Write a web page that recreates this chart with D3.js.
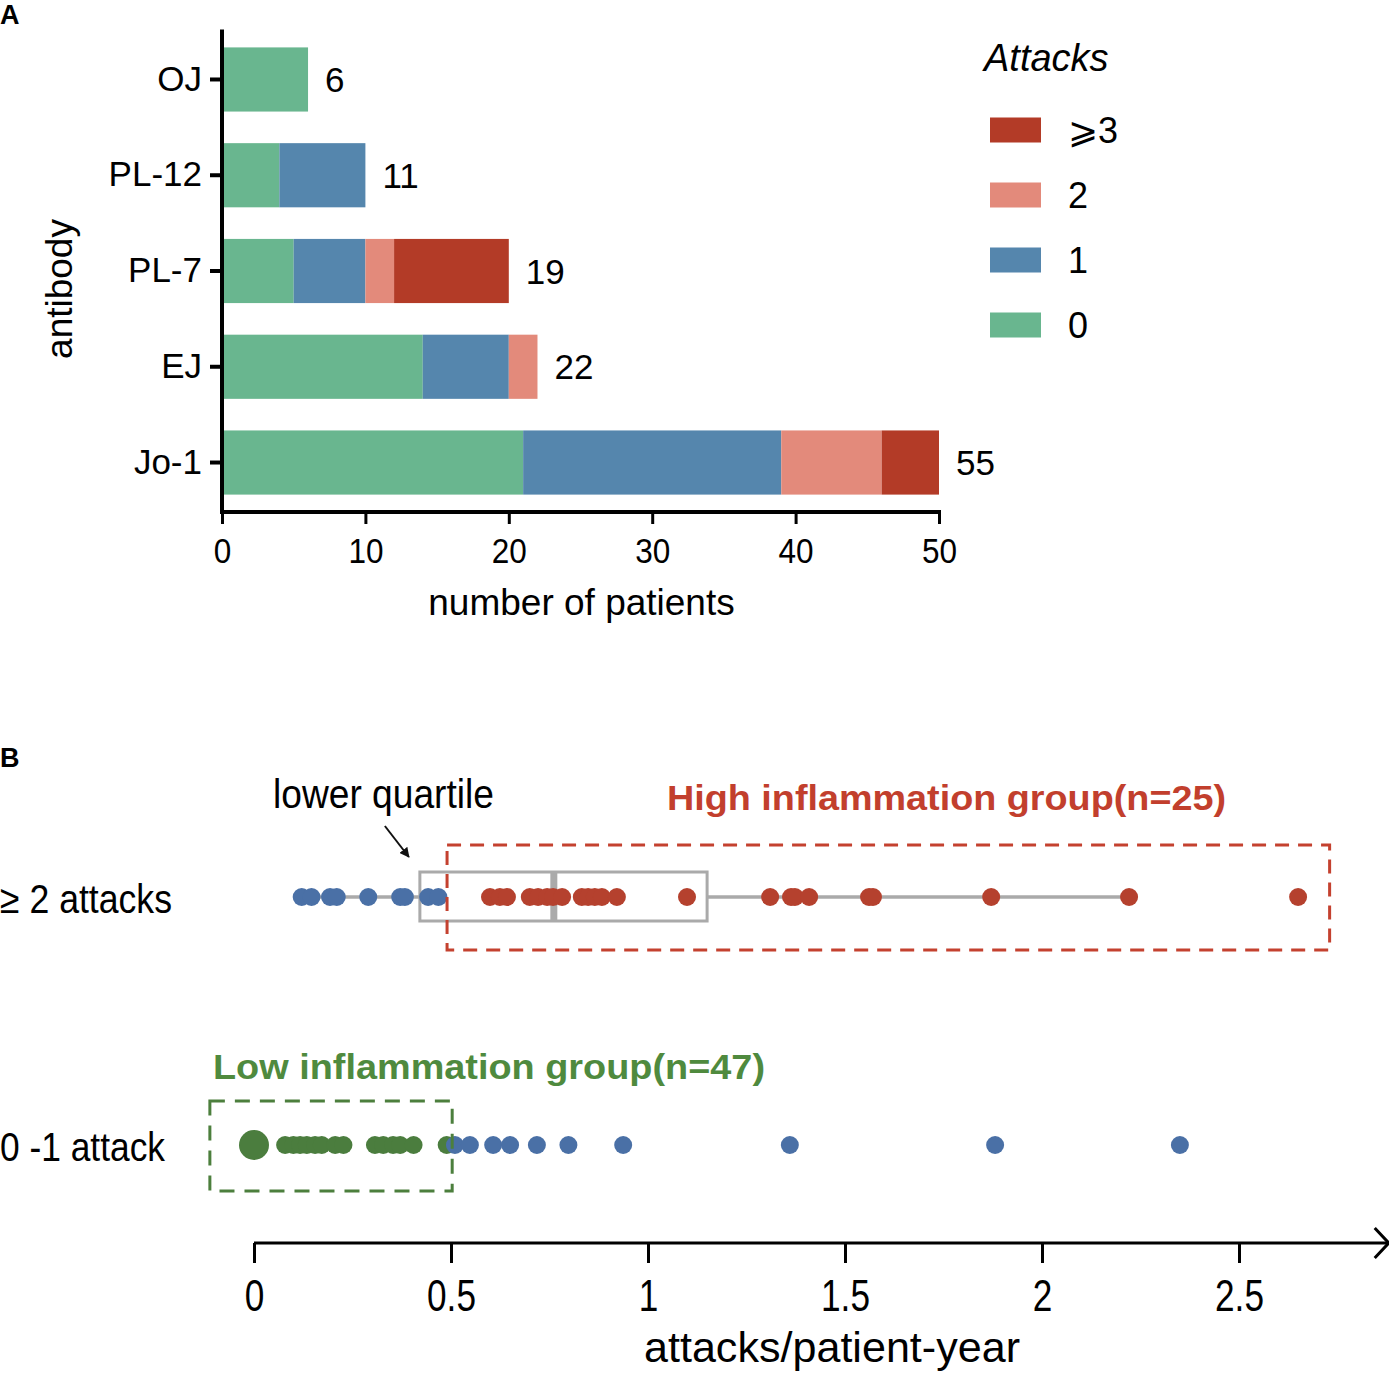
<!DOCTYPE html>
<html>
<head>
<meta charset="utf-8">
<script src="https://d3js.org/d3.v7.min.js"></script>
<style>
  body { margin: 0; background: #fff; }
  text { font-family: "Liberation Sans", Arial, sans-serif; }
</style>
</head>
<body>
<script>
// ---- Panel A data ----
const antibodies = ["OJ", "PL-12", "PL-7", "EJ", "Jo-1"];
const attackKeys = ["0", "1", "2", ">=3"];
const attacks0 = [6, 4, 5, 14, 21];
const attacks1 = [0, 6, 5, 6, 18];
const attacks2 = [0, 0, 2, 2, 7];
const attacks3 = [0, 0, 8, 0, 4];
const totals = [6, 11, 19, 22, 55];
const legendLabels = ["\u2A7E3", "2", "1", "0"];
const xTicksA = [0, 10, 20, 30, 40, 50];

// ---- Panel B data ----
const rowsB = ["\u2265 2 attacks", "0 -1 attack"];
const highBlue = [0.121, 0.146, 0.193, 0.210, 0.290, 0.371, 0.383, 0.442, 0.468];
const highRed = [0.599, 0.624, 0.642, 0.700, 0.721, 0.744, 0.759, 0.782, 0.832, 0.848, 0.865, 0.883, 0.921,
                 1.099, 1.310, 1.363, 1.373, 1.409, 1.561, 1.571, 1.871, 2.221, 2.650];
const boxStats = [0.121, 0.421, 0.761, 1.150, 2.221]; // whisker lo, q1, median, q3, whisker hi
const lowZero = [0];
const lowGreen = [0.079, 0.100, 0.117, 0.134, 0.155, 0.172, 0.206, 0.227, 0.307, 0.328, 0.353, 0.371, 0.405, 0.489];
const lowBlue = [0.510, 0.548, 0.607, 0.650, 0.718, 0.798, 0.937, 1.360, 1.881, 2.350];
const xTicksB = [0, 0.5, 1, 1.5, 2, 2.5];

const colors = { "0": "#69b68f", "1": "#5586ad", "2": "#e38a7b", ">=3": "#b33b27" };
const dotBlue = "#4a70a6", dotRed = "#b5412e", dotGreen = "#4b7d3e";
const textRed = "#c23f2d", textGreen = "#4f8a3e";

const W = 1389, H = 1373;
const svg = d3.select("body").append("svg")
  .attr("width", W).attr("height", H);

function squeeze(sel, len) {
  sel.attr("textLength", len).attr("lengthAdjust", "spacingAndGlyphs");
}
function narrow(sel, f) {
  sel.each(function () {
    const w = this.getComputedTextLength();
    d3.select(this).attr("textLength", w * f).attr("lengthAdjust", "spacingAndGlyphs");
  });
}

// ================= Panel A =================
svg.append("text").attr("x", 0).attr("y", 24)
  .attr("font-size", 27).attr("font-weight", "bold").text("A");

const xA = d3.scaleLinear().domain([0, 50]).range([222, 939]);
const yA = d3.scaleBand().domain(antibodies).range([31.6, 510.4])
  .paddingInner(0.33).paddingOuter(0.165);

const tableA = antibodies.map((a, i) => ({
  name: a, "0": attacks0[i], "1": attacks1[i], "2": attacks2[i], ">=3": attacks3[i], total: totals[i]
}));
const stacked = d3.stack().keys(attackKeys)(tableA);

svg.append("g").selectAll("g")
  .data(stacked).join("g")
  .attr("fill", d => colors[d.key])
  .selectAll("rect")
  .data(d => d).join("rect")
  .attr("x", d => xA(d[0]))
  .attr("width", d => xA(d[1]) - xA(d[0]))
  .attr("y", d => yA(d.data.name))
  .attr("height", yA.bandwidth());

// totals to the right of each bar
svg.append("g").selectAll("text")
  .data(tableA).join("text")
  .attr("x", d => xA(d["0"] + d["1"] + d["2"] + d[">=3"]) + 17)
  .attr("y", d => yA(d.name) + yA.bandwidth() / 2)
  .attr("dy", "0.36em")
  .attr("font-size", 35)
  .text(d => d.total);

// axes
const axisBottomA = svg.append("g")
  .attr("transform", `translate(0,512)`)
  .call(d3.axisBottom(xA).tickValues(xTicksA).tickSize(12).tickSizeOuter(0).tickPadding(14));
axisBottomA.select(".domain").attr("stroke-width", 4)
  .attr("d", `M${xA(0) - 2},0H${xA(50) + 2}`);
axisBottomA.selectAll(".tick line").attr("stroke-width", 3);
axisBottomA.selectAll(".tick text").attr("font-size", 35).attr("font-family", "Liberation Sans, Arial, sans-serif");
narrow(axisBottomA.selectAll(".tick text"), 0.9);

const axisLeftA = svg.append("g")
  .attr("transform", `translate(${xA(0)},0)`)
  .call(d3.axisLeft(yA).tickSize(12).tickSizeOuter(0).tickPadding(8));
axisLeftA.select(".domain").attr("stroke-width", 4)
  .attr("d", `M0,${yA.range()[0] - 2}V${514}`);
axisLeftA.selectAll(".tick line").attr("stroke-width", 4);
axisLeftA.selectAll(".tick text").attr("font-size", 35).attr("font-family", "Liberation Sans, Arial, sans-serif");

svg.append("text")
  .attr("x", (xA(0) + xA(50)) / 2 + 1).attr("y", 615)
  .attr("text-anchor", "middle").attr("font-size", 37)
  .text("number of patients");

svg.append("text")
  .attr("transform", `translate(72,${(yA.range()[0] + yA.range()[1]) / 2 + 18}) rotate(-90)`)
  .attr("text-anchor", "middle").attr("font-size", 37)
  .text("antibody");

// legend
svg.append("text").attr("x", 984).attr("y", 71)
  .attr("font-size", 38).attr("font-style", "italic").text("Attacks");
const legendKeys = [">=3", "2", "1", "0"];
const legY = d3.scalePoint().domain(legendKeys).range([130, 325]);
const leg = svg.append("g").selectAll("g")
  .data(legendKeys).join("g")
  .attr("transform", d => `translate(990,${legY(d)})`);
leg.append("rect").attr("x", 0).attr("y", -12.5).attr("width", 51).attr("height", 25)
  .attr("fill", d => colors[d]);
leg.append("text").attr("x", 78).attr("dy", "0.36em").attr("font-size", 36)
  .text((d, i) => legendLabels[i]);

// ================= Panel B =================
svg.append("text").attr("x", 0).attr("y", 767)
  .attr("font-size", 27).attr("font-weight", "bold").text("B");

const xB = d3.scaleLinear().domain([0, 2.5]).range([254, 1239]);
const yB = d3.scalePoint().domain(rowsB).range([897, 1145]);
const rTop = yB(rowsB[0]), rBot = yB(rowsB[1]);

// row labels
svg.append("g").selectAll("text")
  .data(rowsB).join("text")
  .attr("x", 0).attr("y", d => yB(d) + 2).attr("dy", "0.36em")
  .attr("font-size", 40)
  .text(d => d)
  .each(function (d, i) { squeeze(d3.select(this), i === 0 ? 172 : 165); });

// whisker line and box
const bp = svg.append("g").attr("stroke", "#aaaaaa").attr("fill", "none");
bp.append("line")
  .attr("x1", xB(boxStats[0])).attr("x2", xB(boxStats[4]))
  .attr("y1", rTop).attr("y2", rTop).attr("stroke-width", 3);
bp.append("rect")
  .attr("x", xB(boxStats[1])).attr("width", xB(boxStats[3]) - xB(boxStats[1]))
  .attr("y", rTop - 25).attr("height", 49)
  .attr("fill", "#fff").attr("stroke-width", 3);
bp.append("line")
  .attr("x1", xB(boxStats[1])).attr("x2", xB(boxStats[0]))
  .attr("y1", rTop).attr("y2", rTop).attr("stroke-width", 3);
bp.append("line")
  .attr("x1", xB(boxStats[3])).attr("x2", xB(boxStats[4]))
  .attr("y1", rTop).attr("y2", rTop).attr("stroke-width", 3);
bp.append("line")
  .attr("x1", xB(boxStats[2])).attr("x2", xB(boxStats[2]))
  .attr("y1", rTop - 24).attr("y2", rTop + 23).attr("stroke-width", 7);

// dots
function dots(values, row, color, r) {
  svg.append("g").selectAll("circle")
    .data(values).join("circle")
    .attr("cx", d => xB(d)).attr("cy", yB(row))
    .attr("r", r).attr("fill", color);
}
dots(highBlue, rowsB[0], dotBlue, 9);
dots(highRed, rowsB[0], dotRed, 9);
dots(lowGreen, rowsB[1], dotGreen, 9);
dots(lowBlue, rowsB[1], dotBlue, 9);
dots(lowZero, rowsB[1], dotGreen, 15);

// dashed group boxes
svg.append("rect")
  .attr("x", xB(0.49)).attr("width", xB(2.73) - xB(0.49))
  .attr("y", rTop - 52).attr("height", 105)
  .attr("fill", "none").attr("stroke", "#c4412f").attr("stroke-width", 3)
  .attr("stroke-dasharray", "14,9");
svg.append("rect")
  .attr("x", xB(-0.112)).attr("width", xB(0.503) - xB(-0.112))
  .attr("y", rBot - 44).attr("height", 90)
  .attr("fill", "none").attr("stroke", "#4c7f3d").attr("stroke-width", 3)
  .attr("stroke-dasharray", "15,10");

// group titles
svg.append("text").attr("x", 667).attr("y", 810)
  .attr("font-size", 35).attr("font-weight", "bold").attr("fill", textRed)
  .text("High inflammation group(n=25)")
  .call(squeeze, 559);
svg.append("text").attr("x", 213).attr("y", 1079)
  .attr("font-size", 35).attr("font-weight", "bold").attr("fill", textGreen)
  .text("Low inflammation group(n=47)")
  .call(squeeze, 552);

// lower quartile annotation
svg.append("defs").append("marker")
  .attr("id", "arr").attr("viewBox", "0 0 10 10").attr("refX", 9).attr("refY", 5)
  .attr("markerWidth", 5).attr("markerHeight", 5).attr("orient", "auto")
  .append("path").attr("d", "M0,0L10,5L0,10z").attr("fill", "#111");
svg.append("line")
  .attr("x1", xB(boxStats[1]) - 35).attr("y1", rTop - 71)
  .attr("x2", xB(boxStats[1]) - 11).attr("y2", rTop - 40)
  .attr("stroke", "#111").attr("stroke-width", 2)
  .attr("marker-end", "url(#arr)");
svg.append("text").attr("x", 273).attr("y", 808)
  .attr("font-size", 40).text("lower quartile")
  .call(squeeze, 221);

// x axis with arrow
const axB = svg.append("g").attr("transform", "translate(0,1243)")
  .call(d3.axisBottom(xB).tickValues(xTicksB).tickSize(20).tickSizeOuter(0).tickPadding(17)
    .tickFormat(d3.format("~g")));
axB.select(".domain").attr("stroke-width", 3).attr("d", `M${xB(0)},0H${xB(2.88)}`);
axB.selectAll(".tick line").attr("stroke-width", 3);
axB.selectAll(".tick text").attr("font-size", 44).attr("font-family", "Liberation Sans, Arial, sans-serif");
narrow(axB.selectAll(".tick text"), 0.8);
axB.append("path")
  .attr("d", `M${xB(2.88) - 14},-15L${xB(2.88)},0L${xB(2.88) - 14},15`)
  .attr("fill", "none").attr("stroke", "#000").attr("stroke-width", 3);

svg.append("text")
  .attr("x", 832).attr("y", 1362).attr("text-anchor", "middle")
  .attr("font-size", 42).text("attacks/patient-year")
  .call(squeeze, 376);
</script>
</body>
</html>
